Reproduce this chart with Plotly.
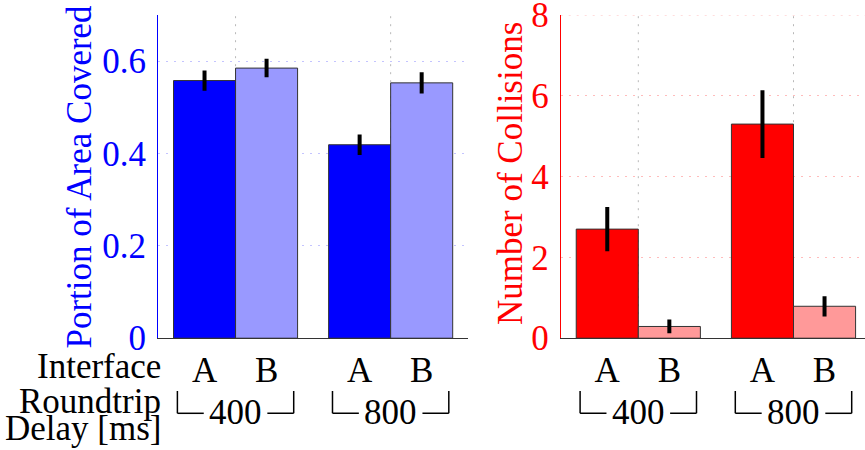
import plotly.graph_objects as go

# ---- data ----
delays = ["400", "800"]            # roundtrip delay groups [ms]
group_pos = [1, 2]                 # numeric group positions on the x axes
interfaces = ["A", "B"]

area_A = [0.558, 0.419]
area_A_err = [0.022, 0.022]
area_B = [0.585, 0.553]
area_B_err = [0.020, 0.023]

coll_A = [2.70, 5.30]
coll_A_err = [0.55, 0.84]
coll_B = [0.29, 0.79]
coll_B_err = [0.17, 0.25]

area_ticks = [0, 0.2, 0.4, 0.6]
area_ticktext = ["0", "0.2", "0.4", "0.6"]
coll_ticks = [0, 2, 4, 6, 8]
coll_ticktext = ["0", "2", "4", "6", "8"]

# ---- styling ----
W, H = 865, 450
FONT = "Liberation Serif"
FS = 35
BLUE, LBLUE = "#0000ff", "#9999ff"
RED, LRED = "#ff0000", "#ff9999"
EDGE = "#333333"
BAR_HALF = 0.2
DOTS = "2px,6px"


def px(x):
    return x / W


def py(y):
    return 1 - y / H


y_dom = [py(338.2), py(15)]
left_dom = [px(158), px(468.2)]
right_dom = [px(560.7), 1.0]
right_max = 0.5 + (W - 560.7) / 155.2

tick_pos = [g + d for g in group_pos for d in (-BAR_HALF, BAR_HALF)]
tick_text = [i for _ in group_pos for i in interfaces]

err_style = dict(type="data", visible=True, color="black", thickness=4, width=0)

fig = go.Figure()


def add_bar(vals, errs, color, xa, ya):
    fig.add_trace(go.Bar(
        x=group_pos, y=vals,
        error_y=dict(array=errs, **err_style),
        marker=dict(color=color, line=dict(color=EDGE, width=1)),
        xaxis=xa, yaxis=ya, showlegend=False, hoverinfo="skip",
    ))


add_bar(area_A, area_A_err, BLUE, "x", "y")
add_bar(area_B, area_B_err, LBLUE, "x", "y")
add_bar(coll_A, coll_A_err, RED, "x2", "y2")
add_bar(coll_B, coll_B_err, LRED, "x2", "y2")

common_x = dict(
    tickvals=tick_pos, ticktext=tick_text, showgrid=False, zeroline=False,
    showline=True, linecolor=EDGE, linewidth=1, ticks="", automargin=False,
    tickfont=dict(family=FONT, size=FS, color="black"), ticklabelstandoff=1,
    fixedrange=True,
)
common_y = dict(
    showline=True, linewidth=1, ticks="", zeroline=False, griddash=DOTS,
    gridwidth=1, ticklabelstandoff=4, ticklabeloverflow="allow",
    automargin=False, fixedrange=True,
)

fig.update_layout(
    template="none",
    width=W, height=H, autosize=False, margin=dict(l=0, r=0, t=0, b=0, pad=0),
    paper_bgcolor="white", plot_bgcolor="white",
    barmode="group", bargap=0.2, bargroupgap=0,
    font=dict(family=FONT, size=FS, color="black"),
    xaxis=dict(domain=left_dom, range=[0.5, 2.5], anchor="y", **common_x),
    yaxis=dict(domain=y_dom, range=[0, 0.7], anchor="x",
               tickvals=area_ticks, ticktext=area_ticktext,
               linecolor=BLUE, gridcolor="#c4c4ff",
               tickfont=dict(family=FONT, size=FS, color=BLUE), **common_y),
    xaxis2=dict(domain=right_dom, range=[0.5, right_max], anchor="y2", **common_x),
    yaxis2=dict(domain=y_dom, range=[0, 8], anchor="x2",
                tickvals=coll_ticks, ticktext=coll_ticktext,
                linecolor=RED, gridcolor="#ffbcbc",
                tickfont=dict(family=FONT, size=FS, color=RED), **common_y),
)

shapes = []
annotations = []

# vertical dotted grid at group centres
for xa, ya in (("x", "y"), ("x2", "y2")):
    top = 0.7 if ya == "y" else 8
    for g in group_pos:
        shapes.append(dict(type="line", xref=xa, yref=ya, x0=g, x1=g, y0=0, y1=top,
                           line=dict(color="#b8b8b8", width=1, dash=DOTS), layer="below"))

# dotted grid line along the top of the collisions panel
shapes.append(dict(type="line", xref="x2 domain", yref="y2", x0=0, x1=1, y0=8, y1=8,
                   line=dict(color="#ffbcbc", width=1, dash=DOTS), layer="below"))

# delay group brackets under each panel
BR_TOP, BR_BOT = py(391), py(413.3)
ARM = 0.17
for xa in ("x", "x2"):
    for g, d in zip(group_pos, delays):
        xl, xr = g - 0.375, g + 0.375
        for seg in (
            (xl, BR_TOP, xl, BR_BOT), (xl, BR_BOT, xl + ARM, BR_BOT),
            (xr, BR_TOP, xr, BR_BOT), (xr - ARM, BR_BOT, xr, BR_BOT),
        ):
            shapes.append(dict(type="line", xref=xa, yref="paper",
                               x0=seg[0], y0=seg[1], x1=seg[2], y1=seg[3],
                               line=dict(color="black", width=1.5)))
        annotations.append(dict(text=d, xref=xa, yref="paper", x=g, y=py(412),
                                xanchor="center", yanchor="middle", showarrow=False,
                                font=dict(family=FONT, size=FS, color="black")))

# axis titles
annotations.append(dict(text="Portion of Area Covered", xref="paper", yref="paper",
                        x=px(79), y=py(176.5), textangle=-90, showarrow=False,
                        xanchor="center", yanchor="middle",
                        font=dict(family=FONT, size=FS, color=BLUE)))
annotations.append(dict(text="Number of Collisions", xref="paper", yref="paper",
                        x=px(510), y=py(174), textangle=-90, showarrow=False,
                        xanchor="center", yanchor="middle",
                        font=dict(family=FONT, size=FS, color=RED)))

# row labels for the category axes
for txt, yc in (("Interface", 366), ("Roundtrip", 401), ("Delay [ms]", 428)):
    annotations.append(dict(text=txt, xref="paper", yref="paper", x=px(163), y=py(yc),
                            xanchor="right", yanchor="middle", showarrow=False,
                            font=dict(family=FONT, size=FS, color="black")))

fig.update_layout(shapes=shapes, annotations=annotations)

fig.write_html("out.html", config={"responsive": False})
